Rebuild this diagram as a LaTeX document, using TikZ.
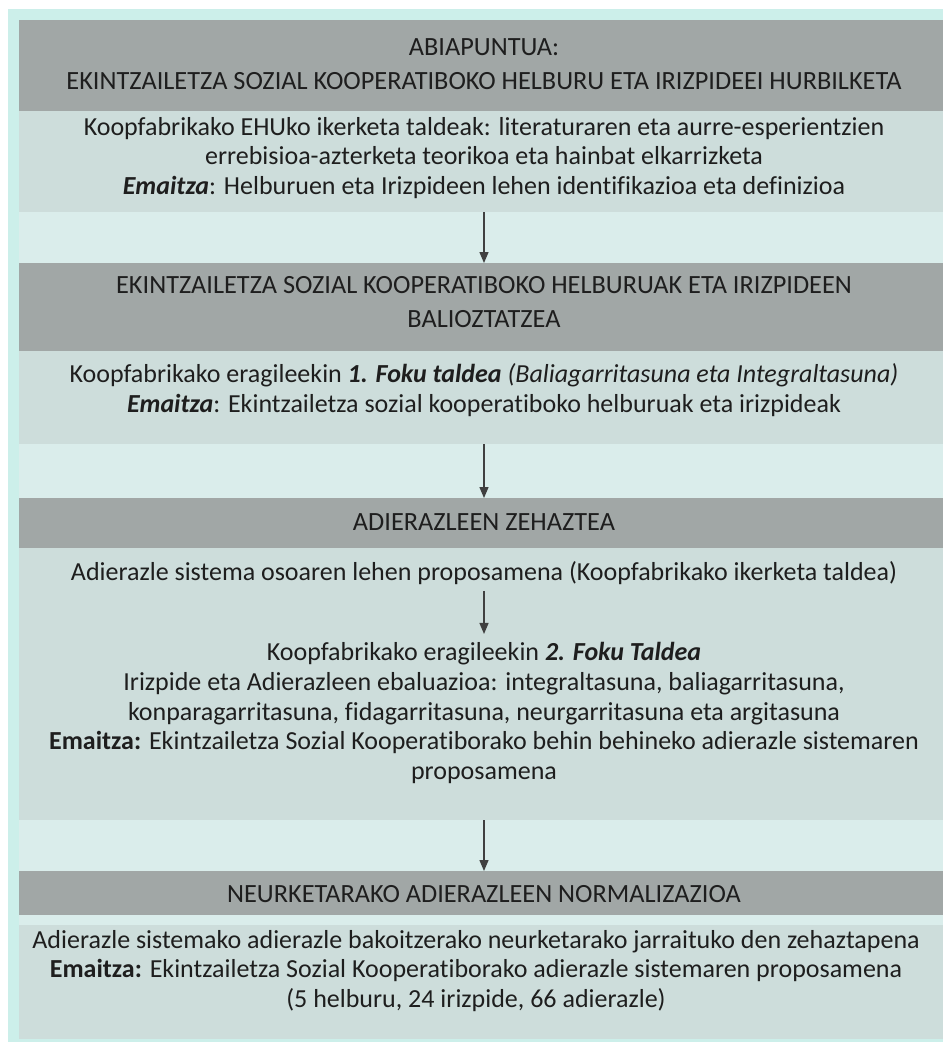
\documentclass[tikz,border=0pt]{standalone}
\usepackage{fontspec}
\setmainfont{Carlito}[Ligatures=NoCommon]
\usetikzlibrary{arrows.meta}
\definecolor{mint}{HTML}{CCEFEA}
\definecolor{gapc}{HTML}{DAEDEB}
\definecolor{hdrc}{HTML}{A1A7A6}
\definecolor{bodyc}{HTML}{CDDDDB}
\definecolor{inkc}{HTML}{1E1E1E}
\definecolor{arrc}{HTML}{404040}
\tikzset{
  band/.style={inner sep=0pt, minimum width=924pt, anchor=north, draw=none},
  hdrband/.style={band, fill=hdrc},
  bodyband/.style={band, fill=bodyc},
  hdrtxt/.style={text=inkc, align=center, inner sep=0pt, font=\fontsize{26.3}{34}\selectfont},
  bodytxt/.style={text=inkc, align=center, inner sep=0pt, font=\fontsize{26}{29.8}\selectfont},
  flow/.style={draw=arrc, line width=1.3pt, -{Triangle[width=9pt,length=11pt]}, shorten >=0pt}
}
\begin{document}
\begin{tikzpicture}[x=1pt,y=1pt]
\useasboundingbox (0,0) rectangle (943,-1042);
\fill[white] (0,0) rectangle (943,-1042);
\fill[mint] (8,-9) rectangle (943,-1042);
\fill[gapc] (19,-20) rectangle (943,-1039);
% bands
\node[hdrband, minimum height=91pt] (h1) at (481,-20) {};
\node[bodyband, minimum height=101pt] (b1) at (481,-111) {};
\node[hdrband, minimum height=88pt] (h2) at (481,-263) {};
\node[bodyband, minimum height=93pt] (b2) at (481,-351) {};
\node[hdrband, minimum height=50pt] (h3) at (481,-498) {};
\node[bodyband, minimum height=272pt] (b3) at (481,-548) {};
\node[hdrband, minimum height=44pt] (h4) at (481,-871) {};
\node[bodyband, minimum height=114pt] (b4) at (481,-925) {};
% texts
\node[hdrtxt] (t1) at (484,-64) {ABIAPUNTUA:\\EKINTZAILETZA SOZIAL KOOPERATIBOKO HELBURU ETA IRIZPIDEEI HURBILKETA};
\node[bodytxt] (u1) at (484,-158) {Koopfabrikako EHUko ikerketa taldeak: literaturaren eta aurre-esperientzien\\errebisioa-azterketa teorikoa eta hainbat elkarrizketa\\\textbf{\textit{Emaitza}}: Helburuen eta Irizpideen lehen identifikazioa eta definizioa};
\node[hdrtxt] (t2) at (484,-302) {EKINTZAILETZA SOZIAL KOOPERATIBOKO HELBURUAK ETA IRIZPIDEEN\\BALIOZTATZEA};
\node[bodytxt] (u2) at (484,-390) {Koopfabrikako eragileekin \textbf{\textit{1. Foku taldea}} \textit{(Baliagarritasuna eta Integraltasuna)}\\\textbf{\textit{Emaitza}}: Ekintzailetza sozial kooperatiboko helburuak eta irizpideak};
\node[hdrtxt] (t3) at (484,-522) {ADIERAZLEEN ZEHAZTEA};
\node[bodytxt] (u3a) at (484,-573) {Adierazle sistema osoaren lehen proposamena (Koopfabrikako ikerketa taldea)};
\node[bodytxt] (u3b) at (484,-713) {Koopfabrikako eragileekin \textbf{\textit{2. Foku Taldea}}\\Irizpide eta Adierazleen ebaluazioa: integraltasuna, baliagarritasuna,\\konparagarritasuna, fidagarritasuna, neurgarritasuna eta argitasuna\\\textbf{Emaitza:} Ekintzailetza Sozial Kooperatiborako behin behineko adierazle sistemaren\\proposamena};
\node[hdrtxt] (t4) at (484,-894) {NEURKETARAKO ADIERAZLEEN NORMALIZAZIOA};
\node[bodytxt] (u4) at (476,-971) {Adierazle sistemako adierazle bakoitzerako neurketarako jarraituko den zehaztapena\\\textbf{Emaitza:} Ekintzailetza Sozial Kooperatiborako adierazle sistemaren proposamena\\(5 helburu, 24 irizpide, 66 adierazle)};
% arrows
\draw[flow] ([xshift=3pt]b1.south) -- ([xshift=3pt]h2.north);
\draw[flow] ([xshift=3pt]b2.south) -- ([xshift=3pt]h3.north);
\draw[flow] (u3a.south -| u3b.north) ++(0,-6pt) coordinate (a3s) -- ([yshift=8pt]u3b.north);
\draw[flow] ([xshift=3pt]b3.south) -- ([xshift=3pt]h4.north);
\end{tikzpicture}
\end{document}
